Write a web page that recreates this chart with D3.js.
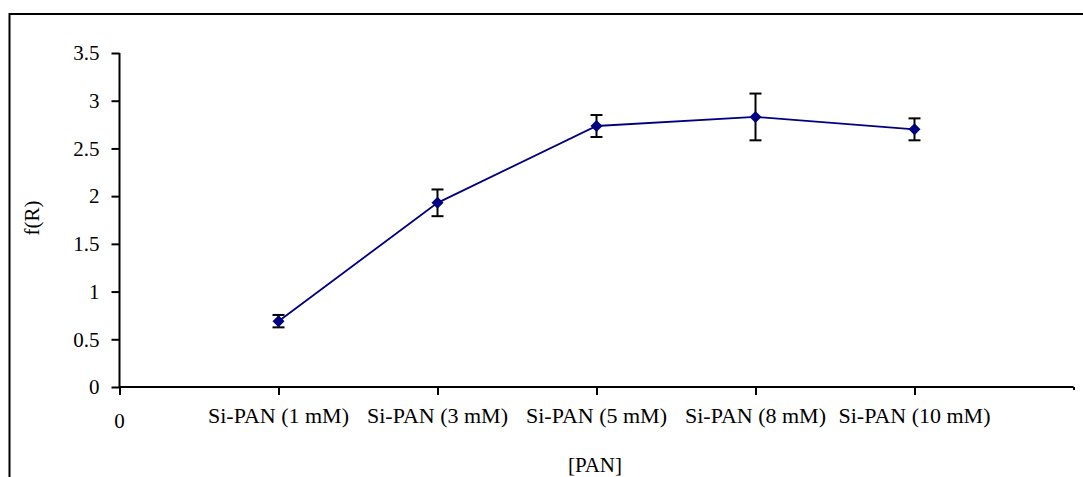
<!DOCTYPE html>
<html>
<head>
<meta charset="utf-8">
<script src="https://cdn.jsdelivr.net/npm/d3@7"></script>
</head>
<body style="margin:0;background:#fff">
<svg id="chart" width="1083" height="477"></svg>
<script>
// categories and values
const categories = ["Si-PAN (1 mM)", "Si-PAN (3 mM)", "Si-PAN (5 mM)", "Si-PAN (8 mM)", "Si-PAN (10 mM)"];
const values = [0.69, 1.93, 2.735, 2.83, 2.70];
const errors = [0.065, 0.14, 0.115, 0.245, 0.115];
const yTicks = [0, 0.5, 1, 1.5, 2, 2.5, 3, 3.5];

const FONT = "'Liberation Serif', 'Times New Roman', 'DejaVu Serif', serif";
const svg = d3.select("#chart");
const margin = {left: 119.5, top: 53};

// outer frame (runs off the right and bottom edges)
svg.append("rect")
  .attr("x", 9.5).attr("y", 14)
  .attr("width", 1100).attr("height", 500)
  .attr("fill", "none").attr("stroke", "#000").attr("stroke-width", 2);

const x = d3.scaleLinear().domain([0, 6]).range([margin.left, 1073.5]);
const y = d3.scaleLinear().domain([0, 3.5]).range([387, margin.top]);

function label(sel, size) {
  return sel.style("font-family", FONT).style("font-size", (size || 21) + "px").attr("fill", "#000");
}

// y axis
const yAxis = svg.append("g")
  .attr("transform", `translate(${margin.left},0)`)
  .call(d3.axisLeft(y).tickValues(yTicks).tickSize(8).tickPadding(12).tickFormat(d3.format("")));
yAxis.select(".domain").attr("stroke-width", 2).attr("d", `M0,${y(3.5)}V${y(0)}`);
yAxis.selectAll(".tick line").attr("stroke-width", 2);
yAxis.selectAll("text").call(label, 21);

// x axis
const xAxis = svg.append("g")
  .attr("transform", `translate(0,${y(0)})`)
  .call(d3.axisBottom(x).tickValues([0, 1, 2, 3, 4, 5, 6]).tickSize(8).tickFormat(""));
xAxis.select(".domain").attr("stroke-width", 2).attr("d", `M${x(0)},0H${x(6)}`);
xAxis.selectAll(".tick line").attr("stroke-width", 2);
xAxis.selectAll(".tick").filter(d => d === 6).select("line").attr("y2", 3);

// category labels
svg.append("g").selectAll("text")
  .data(categories)
  .join("text")
  .attr("x", (d, i) => x(i + 1))
  .attr("y", 423)
  .attr("text-anchor", "middle")
  .call(label, 22)
  .text(d => d);
svg.append("text").attr("x", x(0)).attr("y", 428).attr("text-anchor", "middle").call(label, 21).text("0");

// axis titles
svg.append("text").attr("x", 595).attr("y", 472).attr("text-anchor", "middle").call(label, 21).text("[PAN]");
svg.append("text")
  .attr("transform", `translate(39,218) rotate(-90)`)
  .attr("text-anchor", "middle")
  .call(label, 21)
  .text("f(R)");

// line
svg.append("path")
  .datum(values)
  .attr("fill", "none")
  .attr("stroke", "#000080")
  .attr("stroke-width", 1.8)
  .attr("d", d3.line().x((d, i) => x(i + 1)).y(d => y(d)));

// error bars
const eb = svg.append("g").attr("stroke", "#000").attr("stroke-width", 2);
values.forEach((v, i) => {
  const cx = x(i + 1);
  eb.append("line").attr("x1", cx).attr("x2", cx).attr("y1", y(v + errors[i])).attr("y2", y(v - errors[i]));
  eb.append("line").attr("x1", cx - 6).attr("x2", cx + 6).attr("y1", y(v + errors[i])).attr("y2", y(v + errors[i]));
  eb.append("line").attr("x1", cx - 6).attr("x2", cx + 6).attr("y1", y(v - errors[i])).attr("y2", y(v - errors[i]));
});

// diamond markers
svg.append("g").selectAll("path")
  .data(values)
  .join("path")
  .attr("transform", (d, i) => `translate(${x(i + 1)},${y(d)})`)
  .attr("d", "M0,-6L6,0L0,6L-6,0Z")
  .attr("fill", "#000080");
</script>
</body>
</html>
